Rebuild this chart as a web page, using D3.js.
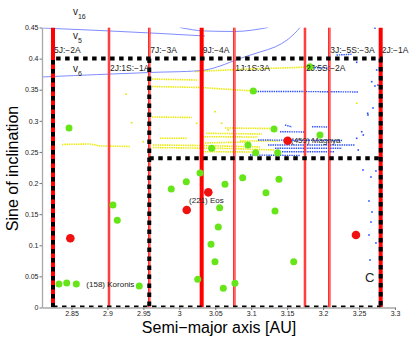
<!DOCTYPE html>
<html><head><meta charset="utf-8">
<script src="https://cdn.jsdelivr.net/npm/d3@7"></script>
<style>
body{margin:0;background:#fff;}
svg{display:block;font-family:"Liberation Sans",Arial,Helvetica,sans-serif;}
</style></head>
<body><svg id="c" width="415" height="338"></svg>
<script>
// ---------- data ----------
const xTicks = [2.85, 2.9, 2.95, 3, 3.05, 3.1, 3.15, 3.2, 3.25, 3.3];
const yTicks = [0, 0.05, 0.1, 0.15, 0.2, 0.25, 0.3, 0.35, 0.4, 0.45];

// mean-motion resonances: [label, a, thick, labelRow]
const resonanceNames = ["5J:−2A","2J:1S:−1A","7J:−3A","9J:−4A","1J:1S:3A","2J:5S:−2A","3J:−5S:−3A","2J:−1A"];
const resonanceA     = [2.8243, 2.9022, 2.9582, 3.0311, 3.0765, 3.1748, 3.2086, 3.2801];
const resonanceThick = [true, false, false, true, false, false, false, true];
const resonanceRow   = ["top","low","top","top","low","low","top","top"];

// boundary of the family region (dashed black)
const boxTop = 0.40, boxMid = 0.24;

// secular resonances
const v5Line  = [[2.809,0.4492],[2.8897,0.4452],[2.9731,0.4404],[3.0357,0.4364]];
const v16Line = [[3.0009,0.4500],[3.0357,0.4444],[3.0774,0.4436],[3.1234,0.4500]];
const v6Line  = [[2.809,0.3705],[2.8897,0.3745],[2.9592,0.3777],[3.0357,0.3817],[3.0566,0.3881],
                 [3.0844,0.4002],[3.1122,0.4106],[3.1331,0.4187],[3.1498,0.4298],[3.1623,0.4428],[3.1678,0.45]];
const secularLabels = [["16",2.852,0.470],["5",2.852,0.432],["6",2.852,0.378]];

// family member tracks (yellow) and other tracks (blue)
const yellowTracks = [
  [[2.962,0.3672],[3.0246,0.3656]],
  [[2.962,0.3552],[3.0288,0.3536],[3.1025,0.3480]],
  [[3.0218,0.3793],[3.0983,0.3833],[3.1817,0.3865]],
  [[2.962,0.3062],[3.0176,0.3054]],
  [[2.8368,0.2620],[2.8758,0.2628],[2.8897,0.2596],[2.9314,0.2588]],
  [[2.9634,0.2612],[3.0288,0.2604],[3.1122,0.2580]],
  [[2.9634,0.2571],[3.0705,0.2555],[3.1331,0.2531]],
  [[3.0288,0.2504],[3.1122,0.2499]],
  [[2.9731,0.2719],[3.0107,0.2719]],
  [[3.0371,0.2800],[3.1150,0.2788]],
  [[3.0288,0.2745],[3.1094,0.2740]],
  [[3.0635,0.2885],[3.1289,0.2877]],
  [[3.0357,0.2644],[3.0914,0.2660]],
  [[3.0844,0.2676],[3.1400,0.2676]]
];
const blueTracks = [
  [[3.1025,0.3471],[3.1678,0.3471],[3.2485,0.3464]],
  [[3.1817,0.3857],[3.2096,0.3849]],
  [[3.1470,0.2933],[3.1567,0.2901]],
  [[3.1845,0.2906],[3.2068,0.2901]],
  [[3.1400,0.2825],[3.1748,0.2821]],
  [[3.1094,0.2692],[3.2263,0.2684]],
  [[3.1233,0.2612],[3.2443,0.2612]],
  [[3.1331,0.2559],[3.2263,0.2559]],
  [[3.1428,0.2504],[3.2165,0.2504]],
  [[3.0983,0.2451],[3.1678,0.2443]],
  [[3.2187,0.4058],[3.2395,0.4069]]
];
const yellowDots = [[2.9258,0.3427],[2.9338,0.2970],[3.2467,0.3282],[3.0496,0.3147],[3.0589,0.2960],
                    [3.0681,0.2853],[3.0242,0.2960],[2.9499,0.2665]];
const blueDots = [[3.2555,0.2210],[3.2735,0.2194],[3.2666,0.2097],[3.2638,0.1712],[3.2680,0.1535],
                  [3.2666,0.1374],[3.2638,0.1165],[3.2735,0.1037],[3.2652,0.0763],[3.2676,0.3629],
                  [3.2721,0.3560],[3.2694,0.3207],[3.2620,0.3121],[3.2537,0.2825],[3.2559,0.2772],
                  [3.2467,0.2719],[3.2489,0.2531],[3.2721,0.4490],[3.2467,0.3941],[3.2745,0.3817],
                  [3.2624,0.3094],[3.2763,0.3576]];

// V-type asteroids (green) and large bodies (red)
const greenA = [2.8466,2.8326,2.8434,2.8567,2.9443,2.9077,2.9137,2.9888,3.0097,3.0288,3.0256,3.0635,
                3.0881,3.1386,3.1205,3.0561,3.1331,3.0542,3.0441,3.0496,3.1591,3.0774,3.0612,3.1029,
                3.1817,3.1317,3.1956,3.0450,3.0955,3.1062,3.1368];
const greenS = [0.2885,0.0378,0.0394,0.0378,0.0346,0.1647,0.1401,0.1905,0.2022,0.2162,0.0453,0.1980,
                0.2086,0.2060,0.1845,0.1604,0.1551,0.1294,0.1016,0.0736,0.0736,0.0389,0.0309,0.3480,
                0.3870,0.2869,0.2772,0.2559,0.2612,0.2488,0.2488];
const redA = [2.8484,3.0103,3.0403,3.1507,3.2457];
const redS = [0.1112,0.1567,0.1851,0.2681,0.1165];

const namedLabels = ["(158) Koronis","(221) Eos","(459) Magnya","C"];
const namedA = [2.8707,3.0135,3.1553,3.2582];
const namedS = [0.0334,0.1675,0.2639,0.0415];

// ---------- drawing ----------
const svg = d3.select("#c");
const x = d3.scaleLinear().domain([2.809, 3.3]).range([42, 395]);
const y = d3.scaleLinear().domain([0, 0.45]).range([307.5, 27.5]);
const fmt = d => String(+d.toFixed(2));

svg.append("rect").attr("width",415).attr("height",338).attr("fill","#fff");
svg.append("clipPath").attr("id","clip").append("rect")
  .attr("x",42).attr("y",27.5).attr("width",353).attr("height",280);
const plot = svg.append("g").attr("clip-path","url(#clip)");
const line = d3.line().x(d=>x(d[0])).y(d=>y(d[1]));
const curve = d3.line().x(d=>x(d[0])).y(d=>y(d[1])).curve(d3.curveMonotoneX);

// tracks
plot.selectAll(".yt").data(yellowTracks).join("path").attr("d",line)
  .attr("fill","none").attr("stroke","#eaea00").attr("stroke-width",1.6).attr("stroke-dasharray","1.4,0.9");
plot.selectAll(".bt").data(blueTracks).join("path").attr("d",line)
  .attr("fill","none").attr("stroke","#2a4dff").attr("stroke-width",1.4).attr("stroke-dasharray","1.4,0.9");
plot.selectAll(".yd").data(yellowDots).join("rect")
  .attr("x",d=>x(d[0])-0.8).attr("y",d=>y(d[1])-0.8).attr("width",1.6).attr("height",1.6).attr("fill","#e6e600");
plot.selectAll(".bd").data(blueDots).join("rect")
  .attr("x",d=>x(d[0])-0.8).attr("y",d=>y(d[1])-0.8).attr("width",1.6).attr("height",1.6).attr("fill","#2a4dff");

// secular resonance curves
[v5Line, v16Line].forEach(l => plot.append("path").attr("d",curve(l)).attr("fill","none")
  .attr("stroke","#6f7fff").attr("stroke-width",0.9));
plot.append("path").attr("d",d3.line().x(d=>x(d[0])).y(d=>y(d[1])).curve(d3.curveCatmullRom)(v6Line))
  .attr("fill","none").attr("stroke","#6f7fff").attr("stroke-width",0.9);

// resonance lines
resonanceA.forEach((a,i) => {
  if (resonanceThick[i]) {
    plot.append("line").attr("x1",x(a)).attr("x2",x(a)).attr("y1",y(0.45)).attr("y2",y(0))
      .attr("stroke","#ff0000").attr("stroke-width",4);
  } else {
    plot.append("line").attr("x1",x(a)).attr("x2",x(a)).attr("y1",y(0.45)).attr("y2",y(0))
      .attr("stroke","#ff0000").attr("stroke-width",2.4);
    plot.append("line").attr("x1",x(a)).attr("x2",x(a)).attr("y1",y(0.45)).attr("y2",y(0))
      .attr("stroke","#ffb4b4").attr("stroke-width",0.7);
  }
});

// dashed family boundary
const aL = resonanceA[0], aM = resonanceA[2], aR = resonanceA[7];
const boundary = [
  [[aL,0],[aL,boxTop],[aR,boxTop],[aR,0]],
  [[aM,boxTop],[aM,0]],
  [[aM,boxMid],[aR,boxMid]],
  [[aL,0],[aR,0]]
];
plot.selectAll(".bd2").data(boundary).join("path").attr("d",line)
  .attr("fill","none").attr("stroke","#000").attr("stroke-width",4).attr("stroke-dasharray","4.5,4.5");

// points
plot.selectAll(".g").data(greenA).join("circle")
  .attr("cx",d=>x(d)).attr("cy",(d,i)=>y(greenS[i])).attr("r",3.5).attr("fill","#66e619");
plot.selectAll(".r").data(redA).join("circle")
  .attr("cx",d=>x(d)).attr("cy",(d,i)=>y(redS[i])).attr("r",4.3).attr("fill","#f01010");

// axes
const gx = svg.append("g").attr("transform","translate(0,307.5)")
  .call(d3.axisBottom(x).tickValues(xTicks).tickFormat(fmt).tickSizeInner(2.5).tickSizeOuter(0).tickPadding(1.5));
const gy = svg.append("g").attr("transform","translate(42,0)")
  .call(d3.axisLeft(y).tickValues(yTicks).tickFormat(fmt).tickSizeInner(2.5).tickSizeOuter(0).tickPadding(1));
[gx,gy].forEach(g=>{
  g.select(".domain").attr("stroke","#a8a8a8").attr("stroke-width",1.3);
  g.selectAll(".tick line").attr("stroke","#777");
  g.selectAll(".tick text").attr("fill","#222").attr("font-size","7px")
    .attr("font-family","Liberation Sans, Arial, sans-serif");
});

// resonance labels
resonanceA.forEach((a,i) => {
  svg.append("text").attr("x",x(a)+1).attr("y", resonanceRow[i]==="top" ? y(boxTop)-6 : y(boxTop)+12)
    .attr("font-size","8.5px").attr("fill","#222").text(resonanceNames[i]);
});

// secular labels
secularLabels.forEach(s => {
  const t = svg.append("text").attr("x",x(s[1])).attr("y",y(s[2])).attr("font-size","10px").attr("fill","#222");
  t.append("tspan").text("v");
  t.append("tspan").attr("dy",4).attr("font-size","7px").text(s[0]);
});

// named bodies
namedLabels.forEach((n,i) => {
  svg.append("text").attr("x",x(namedA[i])).attr("y",y(namedS[i]))
    .attr("font-size", n==="C" ? "13px" : "8px").attr("fill","#222").text(n);
});

// axis titles
svg.append("text").attr("x",219).attr("y",333).attr("text-anchor","middle")
  .attr("font-size","16px").attr("fill","#000").text("Semi−major axis [AU]");
svg.append("text").attr("transform","translate(18,168.5) rotate(-90)").attr("text-anchor","middle")
  .attr("font-size","16px").attr("fill","#000").text("Sine of inclination");
</script></body></html>
